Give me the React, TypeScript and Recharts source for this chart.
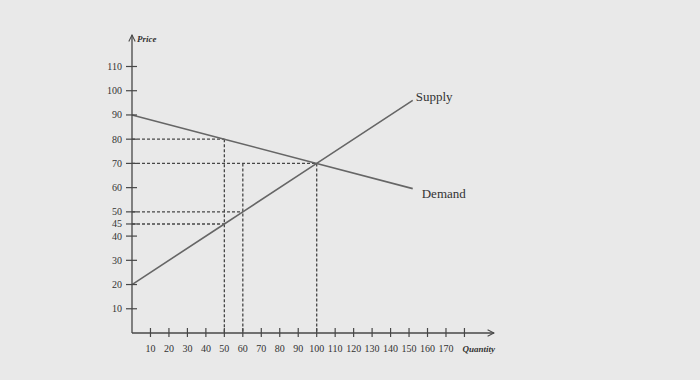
import { LineChart, Line, XAxis, YAxis, ReferenceLine } from 'recharts';

// quantity / price points
const supplyData = [
    { q: 0, p: 20 },
    { q: 50, p: 45 },
    { q: 60, p: 50 },
    { q: 100, p: 70 },
    { q: 152, p: 96 },
];

const demandData = [
    { q: 0, p: 90 },
    { q: 50, p: 80 },
    { q: 100, p: 70 },
    { q: 152, p: 59.6 },
];

const xTicks = [10, 20, 30, 40, 50, 60, 70, 80, 90, 100, 110, 120, 130, 140, 150, 160, 170, 180];
const yTicks = [10, 20, 30, 40, 45, 50, 60, 70, 80, 90, 100, 110];

// dashed guide lines: horizontal ones run from the price axis to q, vertical ones from p down to 0
const guideH = [
    { p: 80, q: 50 },
    { p: 70, q: 100 },
    { p: 50, q: 60 },
    { p: 45, q: 50 },
];
const guideV = [
    { q: 50, p: 80 },
    { q: 60, p: 70 },
    { q: 100, p: 70 },
];

const FONT = '"Liberation Serif", "DejaVu Serif", serif';
const AXIS = '#474747';
const LINE = '#666666';
const TEXT = '#333333';

interface TickProps {
    x?: number;
    y?: number;
    payload?: { value: number };
}

const YTick = ({ x = 0, y = 0, payload }: TickProps) => (
    <g>
        <line x1={x - 6} x2={x + 5} y1={y} y2={y} stroke={AXIS} strokeWidth={1.2} />
        <text x={x - 10} y={y + 3.5} textAnchor="end" fontSize={10} fontFamily={FONT} fill={TEXT}>
            {payload?.value}
        </text>
    </g>
);

const XTick = ({ x = 0, y = 0, payload }: TickProps) => {
    const v = payload?.value;
    return (
        <g>
            <line x1={x} x2={x} y1={y - 5} y2={y + 4} stroke={AXIS} strokeWidth={1.2} />
            {v !== 180 && (
                <text x={x} y={y + 19} textAnchor="middle" fontSize={10} fontFamily={FONT} fill={TEXT}>
                    {v}
                </text>
            )}
        </g>
    );
};

const endLabel = (name: string, dx: number, dy: number, last: number) =>
    (props: any) => {
        if (props.index !== last) return null;
        return (
            <text x={props.x + dx} y={props.y + dy} fontSize={13} fontFamily={FONT} fill={TEXT}>
                {name}
            </text>
        );
    };

export default function App() {
    return (
        <div style={{ position: 'absolute', left: 0, top: 0, width: 700, height: 380, background: '#e9e9e9' }}>
            <LineChart width={700} height={380} margin={{ top: 35, right: 206, left: 92, bottom: 17 }}>
                <defs>
                    <marker
                        id="arrow"
                        viewBox="0 0 10 10"
                        refX="9"
                        refY="5"
                        markerWidth="8"
                        markerHeight="8"
                        markerUnits="userSpaceOnUse"
                        orient="auto-start-reverse"
                    >
                        <path d="M1,1 L9,5 L1,9" fill="none" stroke={AXIS} strokeWidth={1.3} />
                    </marker>
                </defs>
                <XAxis
                    type="number"
                    dataKey="q"
                    domain={[0, 196]}
                    ticks={xTicks}
                    interval={0}
                    height={30}
                    tickSize={0}
                    tickMargin={0}
                    tickLine={false}
                    tick={<XTick />}
                    axisLine={{ stroke: AXIS, strokeWidth: 1.3, markerEnd: 'url(#arrow)' }}
                    label={(p: any) => (
                        <text
                            x={p.viewBox.x + p.viewBox.width + 1}
                            y={p.viewBox.y + 19}
                            textAnchor="end"
                            fontSize={9}
                            fontStyle="italic"
                            fontWeight="bold"
                            fontFamily={FONT}
                            fill={TEXT}
                        >
                            Quantity
                        </text>
                    )}
                />
                <YAxis
                    type="number"
                    dataKey="p"
                    domain={[0, 123]}
                    ticks={yTicks}
                    interval={0}
                    width={40}
                    tickSize={0}
                    tickMargin={0}
                    tickLine={false}
                    tick={<YTick />}
                    axisLine={{ stroke: AXIS, strokeWidth: 1.3, markerStart: 'url(#arrow)' }}
                    label={(p: any) => (
                        <text
                            x={p.viewBox.x + p.viewBox.width + 5}
                            y={p.viewBox.y + 7}
                            fontSize={9}
                            fontStyle="italic"
                            fontWeight="bold"
                            fontFamily={FONT}
                            fill={TEXT}
                        >
                            Price
                        </text>
                    )}
                />
                {guideH.map((g) => (
                    <ReferenceLine
                        key={'h' + g.p}
                        segment={[{ x: 0, y: g.p }, { x: g.q, y: g.p }]}
                        stroke={AXIS}
                        strokeWidth={1.3}
                        strokeDasharray="3 2"
                    />
                ))}
                {guideV.map((g) => (
                    <ReferenceLine
                        key={'v' + g.q}
                        segment={[{ x: g.q, y: g.p }, { x: g.q, y: 0 }]}
                        stroke={AXIS}
                        strokeWidth={1.3}
                        strokeDasharray="3 2"
                    />
                ))}
                <Line
                    data={demandData}
                    dataKey="p"
                    name="Demand"
                    stroke={LINE}
                    strokeWidth={1.6}
                    dot={false}
                    activeDot={false}
                    isAnimationActive={false}
                    label={endLabel('Demand', 9, 9, demandData.length - 1)}
                />
                <Line
                    data={supplyData}
                    dataKey="p"
                    name="Supply"
                    stroke={LINE}
                    strokeWidth={1.6}
                    dot={false}
                    activeDot={false}
                    isAnimationActive={false}
                    label={endLabel('Supply', 3, 1, supplyData.length - 1)}
                />
            </LineChart>
        </div>
    );
}
